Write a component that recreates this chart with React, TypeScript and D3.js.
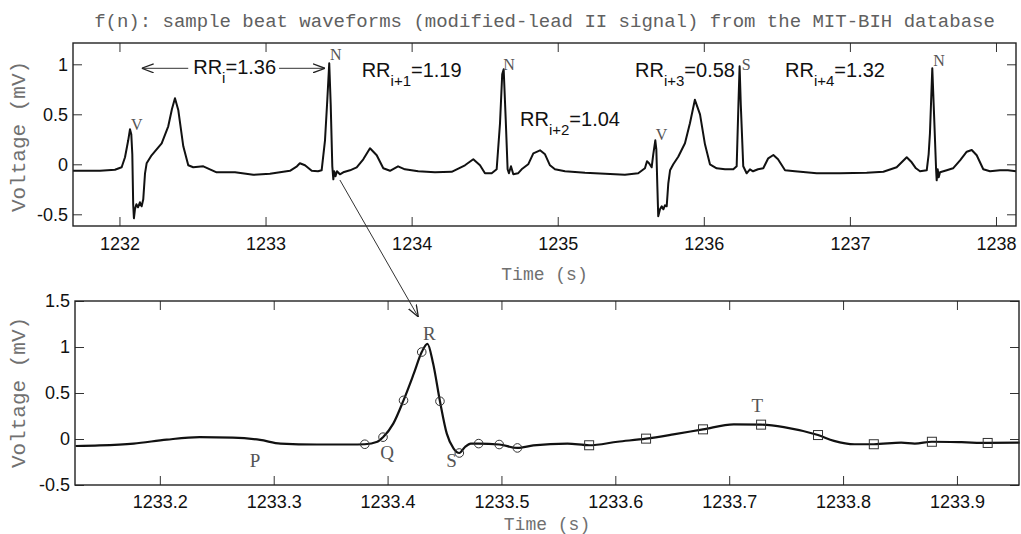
import { useEffect, useRef } from 'react';
import * as d3 from 'd3';

const W = 1021;
const H = 534;

// top panel: a few seconds of the MLII record (time s, voltage mV)
const stripSamples: [number, number][] = [
  [1231.682, -0.065], [1231.867, -0.065], [1231.969, -0.055], [1232.015, -0.03],
  [1232.038, 0.07], [1232.06, 0.24], [1232.072, 0.35], [1232.081, 0.3],
  [1232.088, 0.1], [1232.094, -0.4], [1232.099, -0.54], [1232.106, -0.45],
  [1232.116, -0.4], [1232.127, -0.43], [1232.14, -0.38], [1232.152, -0.42],
  [1232.163, -0.35], [1232.175, -0.09], [1232.186, 0.01], [1232.22, 0.09],
  [1232.289, 0.21], [1232.334, 0.38], [1232.359, 0.55], [1232.38, 0.66],
  [1232.403, 0.54], [1232.437, 0.18], [1232.471, -0.01], [1232.505, -0.03],
  [1232.574, -0.02], [1232.665, -0.08], [1232.791, -0.08], [1232.916, -0.105],
  [1233.03, -0.095], [1233.167, -0.065], [1233.215, -0.02], [1233.235, 0.01],
  [1233.27, -0.01], [1233.316, -0.065], [1233.359, -0.07], [1233.384, -0.06],
  [1233.407, 0.24], [1233.423, 0.65], [1233.436, 1.01], [1233.446, 0.6],
  [1233.457, -0.02], [1233.464, -0.15], [1233.47, -0.07], [1233.479, -0.12],
  [1233.489, -0.07], [1233.509, -0.1], [1233.532, -0.08], [1233.578, -0.06],
  [1233.624, -0.03], [1233.669, 0.05], [1233.715, 0.16], [1233.761, 0.09],
  [1233.806, -0.04], [1233.852, -0.065], [1233.907, -0.02], [1233.954, -0.05],
  [1234.045, -0.07], [1234.16, -0.08], [1234.274, -0.075], [1234.365, -0.01],
  [1234.422, 0.05], [1234.468, -0.01], [1234.502, -0.09], [1234.548, -0.09],
  [1234.582, -0.05], [1234.605, 0.41], [1234.62, 0.9], [1234.63, 0.95],
  [1234.644, 0.45], [1234.657, -0.05], [1234.666, -0.09], [1234.68, -0.02],
  [1234.696, -0.1], [1234.728, -0.09], [1234.753, -0.05], [1234.798, 0.0],
  [1234.833, 0.11], [1234.879, 0.14], [1234.913, 0.1], [1234.947, -0.01],
  [1234.981, -0.05], [1235.05, -0.07], [1235.187, -0.085], [1235.324, -0.095],
  [1235.46, -0.105], [1235.551, -0.09], [1235.597, -0.04], [1235.611, 0.03],
  [1235.625, 0.01], [1235.643, -0.03], [1235.654, 0.1], [1235.668, 0.24],
  [1235.675, 0.15], [1235.682, -0.22], [1235.688, -0.52], [1235.7, -0.45],
  [1235.712, -0.42], [1235.723, -0.45], [1235.734, -0.41], [1235.746, -0.42],
  [1235.757, -0.19], [1235.769, -0.06], [1235.791, 0.0], [1235.825, 0.076],
  [1235.871, 0.21], [1235.905, 0.41], [1235.939, 0.645], [1235.974, 0.5],
  [1236.008, 0.2], [1236.042, 0.0], [1236.088, -0.04], [1236.145, -0.05],
  [1236.202, -0.05], [1236.225, -0.02], [1236.237, 0.6], [1236.245, 0.98],
  [1236.253, 0.6], [1236.27, -0.02], [1236.293, -0.09], [1236.316, -0.05],
  [1236.337, -0.07], [1236.371, -0.05], [1236.407, -0.04], [1236.441, 0.06],
  [1236.476, 0.093], [1236.508, 0.05], [1236.556, -0.06], [1236.624, -0.07],
  [1236.773, -0.09], [1236.932, -0.09], [1237.115, -0.085], [1237.229, -0.075],
  [1237.32, -0.03], [1237.389, 0.07], [1237.423, 0.02], [1237.452, -0.04],
  [1237.48, -0.07], [1237.526, -0.06], [1237.539, 0.1], [1237.548, 0.31],
  [1237.564, 0.96], [1237.576, 0.5], [1237.59, -0.05], [1237.594, -0.16],
  [1237.601, -0.05], [1237.608, -0.13], [1237.617, -0.08], [1237.663, -0.06],
  [1237.706, -0.04], [1237.754, 0.04], [1237.8, 0.126], [1237.834, 0.143],
  [1237.868, 0.09], [1237.913, -0.05], [1237.959, -0.07], [1238.027, -0.06],
  [1238.082, -0.06], [1238.137, -0.07],
];

// bottom panel: the N beat at 1233.44 s, smoothed
const beatSamples: [number, number][] = [
  [1233.126, -0.076], [1233.147, -0.07], [1233.177, -0.05], [1233.206, -0.007],
  [1233.235, 0.02], [1233.264, 0.015], [1233.288, -0.01], [1233.306, -0.05],
  [1233.338, -0.06], [1233.367, -0.06], [1233.38, -0.057], [1233.391, -0.03],
  [1233.396, 0.02], [1233.405, 0.167], [1233.414, 0.42], [1233.423, 0.71],
  [1233.43, 0.945], [1233.435, 1.035], [1233.44, 0.82], [1233.446, 0.41],
  [1233.452, 0.058], [1233.458, -0.104], [1233.463, -0.152], [1233.468, -0.087],
  [1233.473, -0.05], [1233.48, -0.05], [1233.498, -0.06], [1233.514, -0.097],
  [1233.528, -0.07], [1233.558, -0.05], [1233.577, -0.068], [1233.602, -0.03],
  [1233.627, 0.004], [1233.651, 0.05], [1233.677, 0.105], [1233.704, 0.16],
  [1233.728, 0.156], [1233.748, 0.13], [1233.778, 0.043], [1233.792, -0.02],
  [1233.81, -0.057], [1233.827, -0.057], [1233.851, -0.04], [1233.863, -0.05],
  [1233.878, -0.03], [1233.904, -0.035], [1233.927, -0.043], [1233.955, -0.04],
];

// sample points drawn as markers
const qrsPoints: [number, number][] = [
  [1233.38, -0.057], [1233.396, 0.02], [1233.414, 0.42], [1233.43, 0.945],
  [1233.446, 0.41], [1233.463, -0.152], [1233.48, -0.05], [1233.498, -0.06],
  [1233.514, -0.097],
];
const tPoints: [number, number][] = [
  [1233.577, -0.068], [1233.627, 0.004], [1233.677, 0.105], [1233.728, 0.156],
  [1233.778, 0.043], [1233.827, -0.057], [1233.878, -0.03], [1233.927, -0.043],
];

const topXTicks = [1232, 1233, 1234, 1235, 1236, 1237, 1238];
const topYTicks = [-0.5, 0, 0.5, 1];
const botXTicks = [1233.2, 1233.3, 1233.4, 1233.5, 1233.6, 1233.7, 1233.8, 1233.9];
const botYTicks = [-0.5, 0, 0.5, 1, 1.5];

// beat annotations (top)
const beatSym = ['V', 'N', 'N', 'V', 'S', 'N'];
const beatSymT = [1232.079, 1233.441, 1234.627, 1235.671, 1236.259, 1237.571];
const beatSymV = [0.343, 1.043, 0.943, 0.243, 0.943, 0.983];

// RR intervals (top)
const rrSub = ['i', 'i+1', 'i+2', 'i+3', 'i+4'];
const rrValue = [1.36, 1.19, 1.04, 0.58, 1.32];
const rrT = [1232.505, 1233.658, 1234.742, 1235.529, 1236.556];
const rrV = [0.9, 0.876, 0.383, 0.876, 0.876];
const rrArrow = [1232.152, 1233.407]; // span of the RR_i arrow

// wave annotations (bottom)
const waveSym = ['P', 'Q', 'R', 'S', 'T'];
const waveSymT = [1233.279, 1233.3935, 1233.431, 1233.4515, 1233.7195];
const waveSymV = [-0.304, -0.22, 1.073, -0.304, 0.293];

const MONO = "'Courier New', 'Liberation Mono', monospace";
const SANS = "Arial, 'Liberation Sans', sans-serif";
const SERIF = "'Times New Roman', 'Liberation Serif', serif";

const topBox = { left: 73, right: 1016, top: 43, bottom: 226 };
const botBox = { left: 75, right: 1019, top: 301, bottom: 485 };

function drawFrame(g, box, x, y, xTicks, yTicks, fmtX, padX) {
  const styleAxis = (a) => {
    a.select('.domain').remove();
    a.selectAll('line').attr('stroke', '#333').attr('stroke-width', 1);
    a.selectAll('text')
      .attr('font-family', SANS)
      .attr('font-size', 18)
      .attr('fill', '#111');
  };

  g.append('g')
    .attr('transform', `translate(0,${box.bottom})`)
    .call(d3.axisBottom(x).tickValues(xTicks).tickSize(-9).tickSizeOuter(0).tickPadding(padX).tickFormat(fmtX))
    .call(styleAxis);
  g.append('g')
    .attr('transform', `translate(0,${box.top})`)
    .call(d3.axisTop(x).tickValues(xTicks).tickSize(-9).tickSizeOuter(0).tickFormat(() => ''))
    .call(styleAxis);
  g.append('g')
    .attr('transform', `translate(${box.left},0)`)
    .call(d3.axisLeft(y).tickValues(yTicks).tickSize(-9).tickSizeOuter(0).tickPadding(5).tickFormat((d) => String(d)))
    .call(styleAxis);
  g.append('g')
    .attr('transform', `translate(${box.right},0)`)
    .call(d3.axisRight(y).tickValues(yTicks).tickSize(-9).tickSizeOuter(0).tickFormat(() => ''))
    .call(styleAxis);

  g.append('rect')
    .attr('x', box.left)
    .attr('y', box.top)
    .attr('width', box.right - box.left)
    .attr('height', box.bottom - box.top)
    .attr('fill', 'none')
    .attr('stroke', '#222')
    .attr('stroke-width', 1.4);
}

function axisTitles(g, box, yMid, timeY) {
  g.append('text')
    .attr('transform', `translate(25,${yMid}) rotate(-90)`)
    .attr('text-anchor', 'middle')
    .attr('font-family', MONO)
    .attr('font-size', 21)
    .attr('fill', '#707070')
    .text('Voltage (mV)');
  g.append('text')
    .attr('x', (box.left + box.right) / 2)
    .attr('y', timeY)
    .attr('text-anchor', 'middle')
    .attr('font-family', MONO)
    .attr('font-size', 18)
    .attr('fill', '#707070')
    .text('Time (s)');
}

export default function App() {
  const svgRef = useRef(null);

  useEffect(() => {
    const svg = d3.select(svgRef.current);
    svg.selectAll('*').remove();

    const defs = svg.append('defs');
    defs.append('marker')
      .attr('id', 'openArrow')
      .attr('viewBox', '0 0 12 10')
      .attr('refX', 12)
      .attr('refY', 5)
      .attr('markerWidth', 12)
      .attr('markerHeight', 10)
      .attr('markerUnits', 'userSpaceOnUse')
      .attr('orient', 'auto-start-reverse')
      .append('path')
      .attr('d', 'M0,0.5 L12,5 L0,9.5')
      .attr('fill', 'none')
      .attr('stroke', '#222')
      .attr('stroke-width', 1.3);

    // title
    svg.append('text')
      .attr('x', (topBox.left + topBox.right) / 2)
      .attr('y', 27)
      .attr('text-anchor', 'middle')
      .attr('font-family', MONO)
      .attr('font-size', 19)
      .attr('fill', '#606060')
      .text('f(n): sample beat waveforms (modified-lead II signal) from the MIT-BIH database');

    // ---- top panel
    const xTop = d3.scaleLinear().domain([1231.682, 1238.137]).range([topBox.left, topBox.right]);
    const yTop = d3.scaleLinear().domain([-0.617, 1.213]).range([topBox.bottom, topBox.top]);
    const gTop = svg.append('g');

    const stripLine = d3.line().x((d) => xTop(d[0])).y((d) => yTop(d[1]));
    gTop.append('path')
      .attr('d', stripLine(stripSamples))
      .attr('fill', 'none')
      .attr('stroke', '#111')
      .attr('stroke-width', 2)
      .attr('stroke-linejoin', 'round');

    drawFrame(gTop, topBox, xTop, yTop, topXTicks, topYTicks, d3.format('d'), 11);
    axisTitles(gTop, topBox, 136.5, 280);

    gTop.selectAll('.beat-sym')
      .data(beatSym)
      .join('text')
      .attr('class', 'beat-sym')
      .attr('x', (d, i) => xTop(beatSymT[i]))
      .attr('y', (d, i) => yTop(beatSymV[i]))
      .attr('font-family', SERIF)
      .attr('font-size', 16)
      .attr('fill', '#555')
      .text((d) => d);

    const rrText = gTop.selectAll('.rr')
      .data(rrSub)
      .join('text')
      .attr('class', 'rr')
      .attr('x', (d, i) => xTop(rrT[i]))
      .attr('y', (d, i) => yTop(rrV[i]))
      .attr('font-family', SANS)
      .attr('font-size', 20)
      .attr('fill', '#111');
    rrText.append('tspan').text('RR');
    rrText.append('tspan').attr('dy', 9).attr('font-size', 15).text((d) => d);
    rrText.append('tspan').attr('dy', -9).text((d, i) => '=' + rrValue[i].toFixed(2));

    // RR_i double arrow around its label
    const first = rrText.nodes()[0];
    const textStart = xTop(rrT[0]);
    const textEnd = textStart + first.getComputedTextLength();
    const arrowY = yTop(rrV[0]) - 6;
    gTop.append('line')
      .attr('x1', xTop(rrArrow[0])).attr('x2', textStart - 5)
      .attr('y1', arrowY).attr('y2', arrowY)
      .attr('stroke', '#333').attr('stroke-width', 1)
      .attr('marker-start', 'url(#openArrow)');
    gTop.append('line')
      .attr('x1', textEnd + 3).attr('x2', xTop(rrArrow[1]))
      .attr('y1', arrowY).attr('y2', arrowY)
      .attr('stroke', '#333').attr('stroke-width', 1)
      .attr('marker-end', 'url(#openArrow)');

    // ---- bottom panel
    const xBot = d3.scaleLinear().domain([1233.1255, 1233.9545]).range([botBox.left, botBox.right]);
    const yBot = d3.scaleLinear().domain([-0.5, 1.5]).range([botBox.bottom, botBox.top]);
    const gBot = svg.append('g');

    const beatLine = d3.line()
      .x((d) => xBot(d[0]))
      .y((d) => yBot(d[1]))
      .curve(d3.curveMonotoneX);
    gBot.append('path')
      .attr('d', beatLine(beatSamples))
      .attr('fill', 'none')
      .attr('stroke', '#111')
      .attr('stroke-width', 2.2);

    gBot.selectAll('.qrs')
      .data(qrsPoints)
      .join('circle')
      .attr('class', 'qrs')
      .attr('cx', (d) => xBot(d[0]))
      .attr('cy', (d) => yBot(d[1]))
      .attr('r', 4.3)
      .attr('fill', 'none')
      .attr('stroke', '#333')
      .attr('stroke-width', 1);

    gBot.selectAll('.tw')
      .data(tPoints)
      .join('rect')
      .attr('class', 'tw')
      .attr('x', (d) => xBot(d[0]) - 4.5)
      .attr('y', (d) => yBot(d[1]) - 4.5)
      .attr('width', 9)
      .attr('height', 9)
      .attr('fill', 'none')
      .attr('stroke', '#333')
      .attr('stroke-width', 1);

    drawFrame(gBot, botBox, xBot, yBot, botXTicks, botYTicks, d3.format('.1f'), 10);
    axisTitles(gBot, botBox, 392.5, 530);

    gBot.selectAll('.wave-sym')
      .data(waveSym)
      .join('text')
      .attr('class', 'wave-sym')
      .attr('x', (d, i) => xBot(waveSymT[i]))
      .attr('y', (d, i) => yBot(waveSymV[i]))
      .attr('font-family', SERIF)
      .attr('font-size', 19)
      .attr('fill', '#555')
      .text((d) => d);

    // connector from the N beat in the strip to the zoomed R peak
    svg.append('line')
      .attr('x1', xTop(1233.509)).attr('y1', yTop(-0.157))
      .attr('x2', xBot(1233.427)).attr('y2', yBot(1.326))
      .attr('stroke', '#333')
      .attr('stroke-width', 1)
      .attr('marker-end', 'url(#openArrow)');
  }, []);

  return (
    <svg
      ref={svgRef}
      width={W}
      height={H}
      style={{ position: 'absolute', left: 0, top: 0, background: '#fff' }}
    />
  );
}
